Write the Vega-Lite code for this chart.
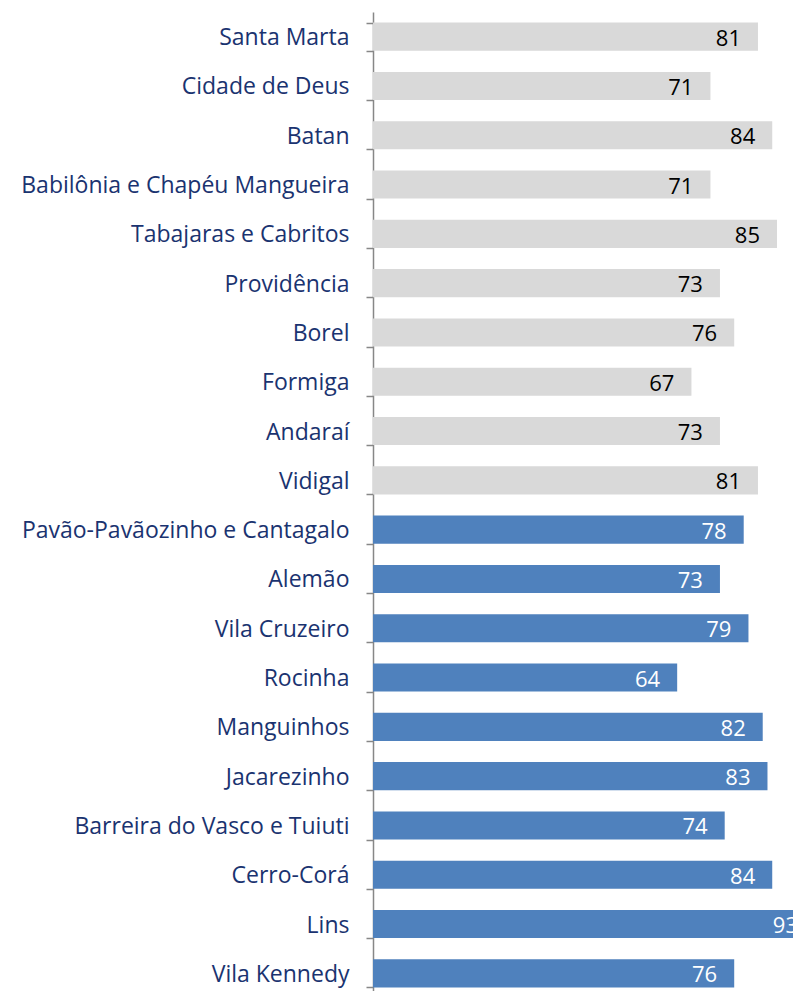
{
  "$schema": "https://vega.github.io/schema/vega-lite/v6.json",
  "width": 420,
  "height": 986,
  "autosize": "none",
  "padding": {"left": 373, "top": 12, "right": 0, "bottom": 0},
  "background": "white",
  "config": {"view": {"stroke": null}},
  "data": {"values": [
    {"name": "Santa Marta", "value": 81, "group": "A"},
    {"name": "Cidade de Deus", "value": 71, "group": "A"},
    {"name": "Batan", "value": 84, "group": "A"},
    {"name": "Babilônia e Chapéu Mangueira", "value": 71, "group": "A"},
    {"name": "Tabajaras e Cabritos", "value": 85, "group": "A"},
    {"name": "Providência", "value": 73, "group": "A"},
    {"name": "Borel", "value": 76, "group": "A"},
    {"name": "Formiga", "value": 67, "group": "A"},
    {"name": "Andaraí", "value": 73, "group": "A"},
    {"name": "Vidigal", "value": 81, "group": "A"},
    {"name": "Pavão-Pavãozinho e Cantagalo", "value": 78, "group": "B"},
    {"name": "Alemão", "value": 73, "group": "B"},
    {"name": "Vila Cruzeiro", "value": 79, "group": "B"},
    {"name": "Rocinha", "value": 64, "group": "B"},
    {"name": "Manguinhos", "value": 82, "group": "B"},
    {"name": "Jacarezinho", "value": 83, "group": "B"},
    {"name": "Barreira do Vasco e Tuiuti", "value": 74, "group": "B"},
    {"name": "Cerro-Corá", "value": 84, "group": "B"},
    {"name": "Lins", "value": 93, "group": "B"},
    {"name": "Vila Kennedy", "value": 76, "group": "B"}
  ]},
  "encoding": {
    "y": {
      "field": "name", "type": "nominal", "sort": null,
      "scale": {"paddingInner": 0.43, "paddingOuter": 0.215},
      "axis": {
        "title": null, "tickBand": "extent", "domainColor": "#878787", "domainWidth": 1.5,
        "tickColor": "#878787", "tickWidth": 1.5, "tickSize": 7,
        "labelFont": "Open Sans", "labelFontSize": 23, "labelColor": "#1a3370",
        "labelPadding": 17, "labelLimit": 400, "labelOffset": 1
      }
    },
    "x": {
      "field": "value", "type": "quantitative",
      "scale": {"domain": [0, 88.37], "nice": false},
      "axis": null
    }
  },
  "layer": [
    {
      "mark": {"type": "bar", "clip": true},
      "encoding": {
        "color": {"field": "group", "type": "nominal", "scale": {"domain": ["A", "B"], "range": ["#d9d9d9", "#4f81bd"]}, "legend": null}
      }
    },
    {
      "mark": {"type": "text", "align": "right", "baseline": "middle", "dx": -17, "dy": 2, "font": "Open Sans", "fontSize": 22},
      "encoding": {
        "text": {"field": "value", "type": "quantitative"},
        "color": {"field": "group", "type": "nominal", "scale": {"domain": ["A", "B"], "range": ["#000000", "#ffffff"]}, "legend": null}
      }
    }
  ],
  "resolve": {"scale": {"color": "independent"}}
}
